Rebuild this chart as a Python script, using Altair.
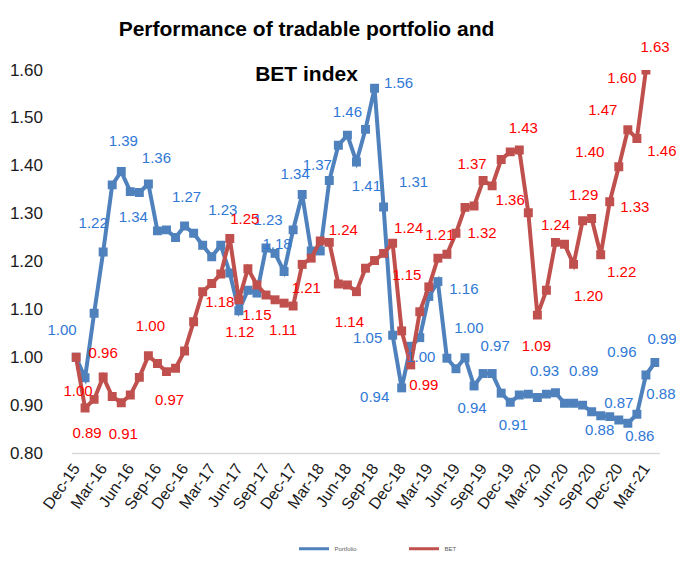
import altair as alt
import pandas as pd

# ---------------- data ----------------
months = [
    "Dec-15", "Jan-16", "Feb-16", "Mar-16", "Apr-16", "May-16", "Jun-16", "Jul-16", "Aug-16", "Sep-16",
    "Oct-16", "Nov-16", "Dec-16", "Jan-17", "Feb-17", "Mar-17", "Apr-17", "May-17", "Jun-17", "Jul-17",
    "Aug-17", "Sep-17", "Oct-17", "Nov-17", "Dec-17", "Jan-18", "Feb-18", "Mar-18", "Apr-18", "May-18",
    "Jun-18", "Jul-18", "Aug-18", "Sep-18", "Oct-18", "Nov-18", "Dec-18", "Jan-19", "Feb-19", "Mar-19",
    "Apr-19", "May-19", "Jun-19", "Jul-19", "Aug-19", "Sep-19", "Oct-19", "Nov-19", "Dec-19", "Jan-20",
    "Feb-20", "Mar-20", "Apr-20", "May-20", "Jun-20", "Jul-20", "Aug-20", "Sep-20", "Oct-20", "Nov-20",
    "Dec-20", "Jan-21", "Feb-21", "Mar-21", "Apr-21",
]

portfolio = [
    1.000, 0.957, 1.092, 1.220, 1.360, 1.388, 1.346, 1.344, 1.362, 1.264,
    1.266, 1.250, 1.274, 1.259, 1.234, 1.210, 1.234, 1.176, 1.097, 1.140,
    1.134, 1.228, 1.217, 1.179, 1.266, 1.340, 1.222, 1.222, 1.369, 1.443,
    1.464, 1.408, 1.476, 1.562, 1.314, 1.046, 0.936, 1.023, 1.041, 1.127,
    1.158, 0.998, 0.976, 0.999, 0.940, 0.966, 0.966, 0.925, 0.906, 0.921,
    0.923, 0.916, 0.923, 0.926, 0.904, 0.904, 0.900, 0.886, 0.878, 0.876,
    0.869, 0.862, 0.881, 0.963, 0.989,
]

bet = [
    1.000, 0.894, 0.912, 0.959, 0.918, 0.905, 0.921, 0.958, 1.003, 0.987,
    0.970, 0.977, 1.013, 1.074, 1.137, 1.154, 1.174, 1.248, 1.120, 1.185,
    1.151, 1.130, 1.120, 1.113, 1.107, 1.194, 1.207, 1.243, 1.240, 1.153,
    1.151, 1.137, 1.186, 1.202, 1.217, 1.238, 1.055, 0.984, 1.095, 1.147,
    1.207, 1.215, 1.259, 1.313, 1.316, 1.369, 1.358, 1.413, 1.429, 1.433,
    1.302, 1.088, 1.140, 1.240, 1.236, 1.194, 1.285, 1.290, 1.214, 1.325,
    1.398, 1.475, 1.457, 1.600, 1.630,
]

tick_labels = [
    "Dec-15", "Mar-16", "Jun-16", "Sep-16", "Dec-16", "Mar-17", "Jun-17", "Sep-17",
    "Dec-17", "Mar-18", "Jun-18", "Sep-18", "Dec-18", "Mar-19", "Jun-19", "Sep-19",
    "Dec-19", "Mar-20", "Jun-20", "Sep-20", "Dec-20", "Mar-21",
]
y_ticks = [0.8, 0.9, 1.0, 1.1, 1.2, 1.3, 1.4, 1.5, 1.6]
series_names = ["Portfolio", "BET"]
title_lines = ["Performance of tradable portfolio and", "BET index"]

# data labels: (point index, text)
portfolio_label_points = [
    (0, "1.00"), (3, "1.22"), (5, "1.39"), (7, "1.34"), (8, "1.36"), (12, "1.27"),
    (16, "1.23"), (21, "1.23"), (23, "1.18"), (25, "1.34"), (28, "1.37"), (30, "1.46"),
    (31, "1.41"), (33, "1.56"), (34, "1.31"), (35, "1.05"), (36, "0.94"), (37, "1.00"),
    (40, "1.16"), (41, "1.00"), (44, "0.94"), (46, "0.97"), (48, "0.91"), (53, "0.93"),
    (57, "0.89"), (58, "0.88"), (60, "0.87"), (61, "0.86"), (62, "0.88"), (63, "0.96"),
    (64, "0.99"),
]
bet_label_points = [
    (0, "1.00"), (1, "0.89"), (3, "0.96"), (5, "0.91"), (8, "1.00"), (10, "0.97"),
    (16, "1.18"), (17, "1.25"), (18, "1.12"), (20, "1.15"), (24, "1.11"), (26, "1.21"),
    (28, "1.24"), (31, "1.14"), (35, "1.24"), (39, "1.15"), (37, "0.99"), (40, "1.21"),
    (44, "1.32"), (45, "1.37"), (46, "1.36"), (49, "1.43"), (51, "1.09"), (53, "1.24"),
    (55, "1.20"), (57, "1.29"), (58, "1.22"), (59, "1.33"), (60, "1.40"), (61, "1.47"),
    (62, "1.46"), (63, "1.60"), (64, "1.63"),
]

# label placement offsets in pixels (dx, dy) relative to the labelled point
portfolio_label_offsets = [
    (-14, -27), (-10, -29), (2, -30), (-6, 24), (8, -26), (2, -29),
    (2, -35), (2, -28), (-7, -28), (-7, -20), (-12, -16), (0, -23),
    (10, 24), (24, -5), (30, -25), (-25, 3), (-27, 9), (10, 11),
    (26, 7), (22, -30), (-2, 22), (3, -28), (3, 23), (-11, -22),
    (-8, -41), (-1, 14), (0, -17), (12, 13), (24, -20), (-24, -23),
    (7, -24),
]
bet_label_offsets = [
    (2, 34), (2, 25), (0, -24), (2, 31), (2, -30), (3, 28),
    (-1, 28), (15, -20), (1, 32), (0, 30), (-10, 24), (-5, 30),
    (14, -12), (-7, 30), (16, -15), (-22, -12), (13, 20), (2, -23),
    (8, 27), (-11, -17), (18, 14), (4, -22), (-1, 31), (0, -17),
    (15, 32), (-8, -23), (21, 17), (25, 5), (-29, -15), (-25, -20),
    (25, 13), (-24, 8), (0, -9),
]

# ---------------- layout / style ----------------
W, H = 588, 383
Y_MIN, Y_MAX = 0.8, 1.6
N = len(months)
XPX = W / N
YPX = H / (Y_MAX - Y_MIN)
FONT = "'Liberation Sans', Arial, sans-serif"
LINE_COLORS = ["#4F81BD", "#C0504D"]
LABEL_COLORS = ["#2F78D6", "#FF0000"]

rows = []
for name, vals in zip(series_names, [portfolio, bet]):
    for i, v in enumerate(vals):
        rows.append({"series": name, "idx": i, "month": months[i], "value": v})
df = pd.DataFrame(rows)

lab_rows = []
for name, pts, offs, vals in zip(series_names,
                                 [portfolio_label_points, bet_label_points],
                                 [portfolio_label_offsets, bet_label_offsets],
                                 [portfolio, bet]):
    for (i, txt), (dx, dy) in zip(pts, offs):
        lab_rows.append({"series": name, "text": txt,
                         "lx": i + dx / XPX, "ly": vals[i] - dy / YPX})
labels_df = pd.DataFrame(lab_rows)

label_expr = "[" + ",".join("'%s'" % t for t in tick_labels) + "][round(datum.value / 3)]"

x_scale = alt.Scale(domain=[-0.5, N - 0.5], nice=False, zero=False)
y_scale = alt.Scale(domain=[Y_MIN, Y_MAX], nice=False, zero=False)
color_scale = alt.Scale(domain=series_names, range=LINE_COLORS)

x_axis = alt.Axis(values=list(range(0, N - 1, 3)), labelExpr=label_expr, labelAngle=305,
                  labelAlign="right", labelBaseline="middle", labelPadding=12,
                  labelFont=FONT, labelFontSize=16, labelColor="#1a1a1a",
                  ticks=False, grid=False, domain=True, domainColor="#D9D9D9",
                  domainWidth=1.5, title=None, labelOverlap=False)
y_axis = alt.Axis(values=y_ticks, format=".2f", labelFont=FONT, labelFontSize=17,
                  labelColor="#1a1a1a", labelPadding=29, ticks=False, grid=False,
                  domain=False, title=None)

legend = alt.Legend(title=None, orient="none", direction="horizontal",
                    legendX=226, legendY=462, symbolType="stroke",
                    symbolStrokeWidth=3, symbolSize=900,
                    labelFontSize=6, labelColor="#595959",
                    labelFont=FONT, columnPadding=45)

base = alt.Chart(df)


def series_layers(name):
    sub = base.transform_filter(alt.datum.series == name)
    enc = dict(
        x=alt.X("idx:Q", scale=x_scale, axis=x_axis),
        y=alt.Y("value:Q", scale=y_scale, axis=y_axis),
        color=alt.Color("series:N", scale=color_scale, legend=legend),
    )
    line = sub.mark_line(strokeWidth=4, clip=True).encode(**enc)
    pts = sub.mark_point(shape="square", filled=True, size=80, opacity=1, clip=True).encode(**enc)
    return [line, pts]


label_layers = []
for name, col in zip(series_names, LABEL_COLORS):
    label_layers.append(
        alt.Chart(labels_df).transform_filter(alt.datum.series == name)
        .mark_text(font=FONT, fontSize=15, color=col, align="center", baseline="middle")
        .encode(x=alt.X("lx:Q", scale=x_scale, axis=x_axis),
                y=alt.Y("ly:Q", scale=y_scale, axis=y_axis),
                text="text:N")
    )

chart = alt.layer(
    *series_layers("Portfolio"),
    *series_layers("BET"),
    *label_layers,
).properties(
    width=W, height=H,
    title=alt.TitleParams(text=title_lines, font=FONT, fontSize=21, fontWeight="bold",
                          color="black", anchor="middle", frame="group", dx=-59,
                          offset=-45, lineHeight=45),
    autosize=alt.AutoSizeParams(type="none"),
    padding={"left": 63.5, "top": 62, "right": 16.5, "bottom": 106},
).configure_view(stroke=None)

chart.save("out.html", embed_options={"renderer": "svg", "actions": False})
